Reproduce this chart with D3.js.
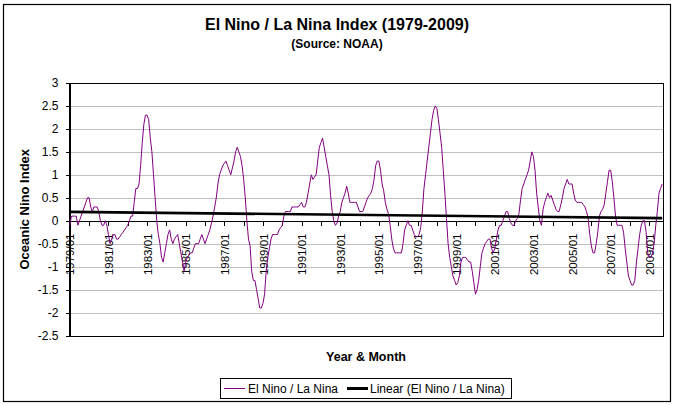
<!DOCTYPE html>
<html>
<head>
<meta charset="utf-8">
<script src="https://cdn.jsdelivr.net/npm/d3@7"></script>
<style>
  body { margin: 0; background: #fff; }
  text { font-family: "Liberation Sans", Arial, sans-serif; }
</style>
</head>
<body>
<div id="graph"></div>
<script>
// monthly index values, one row per year (1979/01 .. 2009/09)
var oni1979 = [-0.1, 0.1, 0.1, 0.1, 0.1, -0.1, 0.0, 0.1, 0.2, 0.3, 0.4, 0.5];
var oni1980 = [0.5, 0.3, 0.2, 0.3, 0.3, 0.3, 0.2, 0.0, -0.1, -0.1, 0.0, -0.1];
var oni1981 = [-0.3, -0.5, -0.4, -0.3, -0.3, -0.4, -0.4, -0.35, -0.3, -0.25, -0.2, -0.15];
var oni1982 = [-0.1, 0.0, 0.1, 0.1, 0.4, 0.7, 0.7, 0.8, 1.2, 1.7, 2.1, 2.3];
var oni1983 = [2.3, 2.2, 1.8, 1.5, 1.0, 0.5, 0.0, -0.3, -0.5, -0.8, -0.9, -0.7];
var oni1984 = [-0.5, -0.3, -0.2, -0.4, -0.5, -0.4, -0.35, -0.3, -0.5, -0.7, -0.9, -1.1];
var oni1985 = [-0.9, -0.8, -0.75, -0.7, -0.7, -0.6, -0.5, -0.5, -0.5, -0.4, -0.3, -0.4];
var oni1986 = [-0.5, -0.4, -0.3, -0.2, -0.05, 0.1, 0.3, 0.5, 0.8, 1.0, 1.1, 1.2];
var oni1987 = [1.25, 1.3, 1.2, 1.1, 1.0, 1.15, 1.3, 1.5, 1.6, 1.5, 1.4, 1.2];
var oni1988 = [0.9, 0.5, 0.0, -0.4, -0.55, -1.1, -1.3, -1.3, -1.5, -1.7, -1.9, -1.9];
var oni1989 = [-1.8, -1.6, -1.1, -0.8, -0.6, -0.4, -0.3, -0.3, -0.3, -0.3, -0.2, -0.15];
var oni1990 = [-0.1, 0.1, 0.2, 0.2, 0.2, 0.2, 0.3, 0.3, 0.3, 0.3, 0.3, 0.35];
var oni1991 = [0.4, 0.3, 0.3, 0.4, 0.6, 0.8, 1.0, 0.9, 0.95, 1.0, 1.3, 1.6];
var oni1992 = [1.7, 1.8, 1.6, 1.4, 1.2, 1.0, 0.55, 0.2, 0.0, -0.1, -0.05, 0.1];
var oni1993 = [0.2, 0.4, 0.5, 0.6, 0.75, 0.6, 0.4, 0.4, 0.4, 0.4, 0.4, 0.3];
var oni1994 = [0.2, 0.2, 0.2, 0.3, 0.4, 0.5, 0.55, 0.6, 0.7, 0.9, 1.2, 1.3];
var oni1995 = [1.3, 1.1, 0.8, 0.65, 0.4, 0.25, 0.15, -0.1, -0.4, -0.6, -0.7, -0.7];
var oni1996 = [-0.7, -0.7, -0.7, -0.5, -0.2, -0.1, 0.0, -0.1, -0.1, -0.2, -0.3, -0.35];
var oni1997 = [-0.35, -0.3, -0.15, 0.2, 0.7, 1.0, 1.3, 1.6, 1.9, 2.2, 2.4, 2.5];
var oni1998 = [2.45, 2.2, 1.9, 1.6, 1.1, 0.6, 0.05, -0.5, -0.8, -1.0, -1.2, -1.3];
var oni1999 = [-1.4, -1.35, -1.2, -0.9, -0.8, -0.8, -0.8, -0.85, -0.9, -0.9, -1.1, -1.35];
var oni2000 = [-1.6, -1.5, -1.3, -1.0, -0.7, -0.6, -0.5, -0.45, -0.4, -0.4, -0.6, -0.7];
var oni2001 = [-0.6, -0.4, -0.2, -0.1, -0.1, 0.0, 0.1, 0.2, 0.2, 0.05, -0.05, -0.1];
var oni2002 = [-0.1, 0.0, 0.05, 0.15, 0.45, 0.7, 0.8, 0.9, 1.0, 1.1, 1.3, 1.5];
var oni2003 = [1.4, 1.1, 0.6, 0.3, 0.0, -0.1, 0.25, 0.4, 0.5, 0.6, 0.5, 0.55];
var oni2004 = [0.45, 0.35, 0.25, 0.2, 0.2, 0.35, 0.5, 0.7, 0.8, 0.9, 0.8, 0.8];
var oni2005 = [0.8, 0.6, 0.45, 0.4, 0.4, 0.4, 0.4, 0.35, 0.3, 0.2, 0.05, -0.3];
var oni2006 = [-0.55, -0.7, -0.7, -0.5, -0.25, 0.1, 0.2, 0.25, 0.35, 0.6, 0.85, 1.1];
var oni2007 = [1.1, 0.85, 0.5, 0.1, -0.1, -0.1, -0.1, -0.1, -0.25, -0.6, -0.9, -1.2];
var oni2008 = [-1.3, -1.4, -1.4, -1.3, -0.9, -0.6, -0.3, -0.1, 0.0, 0.0, -0.25, -0.7];
var oni2009 = [-0.8, -0.8, -0.7, -0.5, -0.1, 0.2, 0.6, 0.7, 0.8];

var startYear = 1979;
var yTicks = [3, 2.5, 2, 1.5, 1, 0.5, 0, -0.5, -1, -1.5, -2, -2.5];

var data = [].concat(oni1979, oni1980, oni1981, oni1982, oni1983, oni1984, oni1985,
  oni1986, oni1987, oni1988, oni1989, oni1990, oni1991, oni1992, oni1993, oni1994,
  oni1995, oni1996, oni1997, oni1998, oni1999, oni2000, oni2001, oni2002, oni2003,
  oni2004, oni2005, oni2006, oni2007, oni2008, oni2009);
var N = data.length;

// category label for month i, e.g. "1981/01"
function monthLabel(i) {
  var yr = startYear + Math.floor(i / 12), m = (i % 12) + 1;
  return yr + "/" + (m < 10 ? "0" + m : m);
}

var W = 675, H = 405;
var plot = {left: 69, right: 663, top: 83, bottom: 335.5};

var svg = d3.select("#graph").append("svg")
    .attr("width", W)
    .attr("height", H);

// chart frame
svg.append("rect")
    .attr("x", 3.5).attr("y", 4.5)
    .attr("width", 667).attr("height", 397)
    .attr("fill", "#fff").attr("stroke", "#000").attr("stroke-width", 1.2);

var x = d3.scalePoint().domain(d3.range(N)).range([plot.left, plot.right]).padding(0.5);
var y = d3.scaleLinear().domain([-2.5, 3]).range([plot.bottom, plot.top]);

// gridlines
svg.append("g")
  .selectAll("line")
  .data(yTicks.filter(function(d) { return d !== 0 && d !== 3 && d !== -2.5; }))
  .enter().append("line")
    .attr("x1", plot.left).attr("x2", plot.right)
    .attr("y1", function(d) { return Math.round(y(d)) + 0.5; })
    .attr("y2", function(d) { return Math.round(y(d)) + 0.5; })
    .attr("stroke", "#c0c0c0")
    .attr("shape-rendering", "crispEdges");

// plot border
svg.append("rect")
    .attr("x", plot.left + 0.5).attr("y", Math.round(plot.top) + 0.5)
    .attr("width", plot.right - plot.left).attr("height", Math.round(plot.bottom) - Math.round(plot.top))
    .attr("fill", "none").attr("stroke", "#000")
    .attr("shape-rendering", "crispEdges");

// Y axis
var yAxis = svg.append("g")
    .attr("transform", "translate(" + (plot.left + 0.5) + ",0)")
    .call(d3.axisLeft(y).tickValues(yTicks).tickSize(4).tickPadding(7)
      .tickFormat(function(d) { return String(d); }));
yAxis.select(".domain").attr("shape-rendering", "crispEdges");
yAxis.selectAll("line").attr("shape-rendering", "crispEdges");
yAxis.selectAll("text").attr("font-size", 12).attr("font-family", "Liberation Sans, Arial, sans-serif");

// X axis (crosses at zero)
var y0 = Math.round(y(0)) + 0.5;
var xAxis = svg.append("g")
    .attr("transform", "translate(0," + y0 + ")")
    .call(d3.axisBottom(x).tickValues(d3.range(0, N, 12)).tickSize(4).tickSizeOuter(0)
      .tickFormat(function(i) { return i % 24 === 0 ? monthLabel(i) : ""; }));
xAxis.select(".domain").attr("d", "M" + plot.left + ",0H" + plot.right).attr("shape-rendering", "crispEdges");
xAxis.selectAll("line").attr("shape-rendering", "crispEdges");
xAxis.selectAll("text")
    .attr("font-size", 11.5)
    .attr("font-family", "Liberation Sans, Arial, sans-serif")
    .attr("transform", "rotate(-90)")
    .attr("x", -12).attr("y", 0).attr("dy", "0.35em")
    .style("text-anchor", "end");

// the index line
var line = d3.line()
    .x(function(d, i) { return x(i); })
    .y(function(d) { return y(d); });

svg.append("path")
    .datum(data)
    .attr("fill", "none")
    .attr("stroke", "#800080")
    .attr("stroke-width", 1)
    .attr("d", line);

// linear trend (least squares, like Excel's trendline)
var mx = d3.mean(d3.range(N)), my = d3.mean(data);
var sxy = d3.sum(data, function(d, i) { return (i - mx) * (d - my); });
var sxx = d3.sum(d3.range(N), function(i) { return (i - mx) * (i - mx); });
var slope = sxy / sxx, icept = my - slope * mx;

svg.append("line")
    .attr("x1", x(0)).attr("x2", x(N - 1))
    .attr("y1", y(icept)).attr("y2", y(icept + slope * (N - 1)))
    .attr("stroke", "#000").attr("stroke-width", 2.6);

// titles
svg.append("text")
    .attr("x", 337).attr("y", 30)
    .attr("text-anchor", "middle")
    .attr("font-size", 16).attr("font-weight", "bold")
    .text("El Nino / La Nina Index (1979-2009)");

svg.append("text")
    .attr("x", 337).attr("y", 48)
    .attr("text-anchor", "middle")
    .attr("font-size", 12).attr("font-weight", "bold")
    .text("(Source: NOAA)");

svg.append("text")
    .attr("x", (plot.left + plot.right) / 2).attr("y", 361)
    .attr("text-anchor", "middle")
    .attr("font-size", 12.5).attr("font-weight", "bold")
    .text("Year & Month");

svg.append("text")
    .attr("transform", "translate(28.5," + ((plot.top + plot.bottom) / 2) + ") rotate(-90)")
    .attr("text-anchor", "middle")
    .attr("font-size", 13).attr("font-weight", "bold")
    .text("Oceanic Nino Index");

// legend
var lg = svg.append("g");
lg.append("rect")
    .attr("x", 220.5).attr("y", 378.5).attr("width", 291).attr("height", 20)
    .attr("fill", "#fff").attr("stroke", "#000")
    .attr("shape-rendering", "crispEdges");
lg.append("line")
    .attr("x1", 224).attr("x2", 245).attr("y1", 388.5).attr("y2", 388.5)
    .attr("stroke", "#800080").attr("shape-rendering", "crispEdges");
lg.append("text")
    .attr("x", 248).attr("y", 392.5).attr("font-size", 12)
    .text("El Nino / La Nina");
lg.append("line")
    .attr("x1", 347).attr("x2", 368).attr("y1", 388.5).attr("y2", 388.5)
    .attr("stroke", "#000").attr("stroke-width", 2.6).attr("shape-rendering", "crispEdges");
lg.append("text")
    .attr("x", 370).attr("y", 392.5).attr("font-size", 12)
    .text("Linear (El Nino / La Nina)");
</script>
</body>
</html>
